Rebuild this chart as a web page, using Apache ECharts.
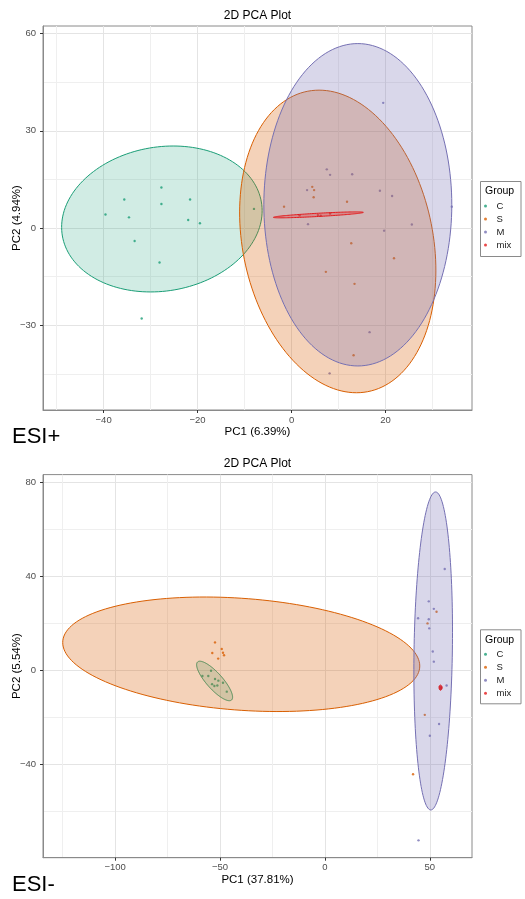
<!DOCTYPE html>
<html><head><meta charset="utf-8">
<script src="https://cdn.jsdelivr.net/npm/echarts@6/dist/echarts.min.js"></script>
<style>html,body{margin:0;padding:0;background:#fff}#c{width:525px;height:899px}</style>
</head><body><div id="c"></div>
<script>
// ---------- data ----------
const groups = ['C', 'S', 'M', 'mix'];
const groupColors = ['#1B9E77', '#D95F02', '#7570B3', '#E41A1C'];
const groupFillAlpha = [0.2, 0.28, 0.28, 0.28];

// ESI+ PCA scores [PC1, PC2]
const posC = [[-27.7,12.5],[-35.6,8.8],[-27.7,7.4],[-21.6,8.8],[-39.6,4.2],[-34.6,3.3],[-22.0,2.5],[-19.5,1.5],[-33.4,-4.0],[-28.1,-10.6],[-31.9,-27.9],[-8.0,5.9]];
const posS = [[4.4,12.7],[4.8,11.7],[4.7,9.5],[-1.6,6.6],[11.8,8.1],[12.7,-4.7],[21.8,-9.3],[7.3,-13.5],[13.4,-17.2],[13.2,-39.2]];
const posM = [[19.5,38.6],[7.5,18.1],[8.2,16.4],[12.9,16.6],[3.3,11.7],[18.8,11.5],[21.4,9.9],[34.1,6.6],[3.5,1.2],[19.7,-0.8],[25.6,1.1],[16.6,-32.1],[8.1,-44.8]];
const posMix = [[1.7,3.9],[5.6,4.0],[6.2,3.8],[8.2,4.5]];
// ellipses: [centerX, centerY, axis1X, axis1Y, axis2X, axis2Y] (conjugate semi-diameters)
const posEllipses = [[-27.6,2.8,21.2,0,2.4,22.5],[9.83,-4.13,20.5,0,-3.98,46.65],[14.1,7.18,20.0,0,0,49.7],[5.7,4.07,9.57,0.77,0,0.5]];
const posXRange = [-52.9, 38.4];
const posYRange = [-56.1, 62.3];
const posXTicks = [-40, -20, 0, 20];
const posXMinor = [-50, -30, -10, 10, 30];
const posYTicks = [-30, 0, 30, 60];
const posYMinor = [-45, -15, 15, 45];

// ESI- PCA scores [PC1, PC2]
const negC = [[-54.3,-0.2],[-58.4,-2.4],[-55.6,-2.4],[-52.4,-3.7],[-50.8,-4.4],[-53.8,-5.9],[-52.7,-6.7],[-51.3,-6.5],[-48.6,-5.3],[-46.8,-9.1]];
const negS = [[-52.4,11.9],[-53.7,7.4],[-49.2,9.1],[-48.6,7.5],[-48.1,6.4],[-50.9,5.0],[53.2,25.0],[48.9,20.0],[47.6,-19.0],[42.0,-44.3]];
const negM = [[57.1,43.2],[49.5,29.4],[51.9,26.2],[44.4,22.2],[49.5,21.8],[49.7,17.9],[51.4,8.0],[51.9,3.7],[58.0,-6.5],[54.4,-22.9],[50.0,-27.9],[44.6,-72.5]];
const negMix = [[54.8,-7.0],[55.3,-7.6],[55.0,-7.9],[55.4,-7.2]];
const negEllipses = [[-52.6,-4.54,8.1,-8.1,2.81,2.3],[-39.9,6.84,85.1,-5.0,0,23.9],[51.6,8.25,9.14,0,1.14,67.8],[55.1,-7.4,0.7,0,0,1.1]];
const negXRange = [-134.4, 70.1];
const negYRange = [-79.9, 83.45];
const negXTicks = [-100, -50, 0, 50];
const negXMinor = [-125, -75, -25, 25];
const negYTicks = [-80, -40, 0, 40, 80];
const negYMinor = [-60, -20, 20, 60];

const plotTitle = '2D PCA Plot';
const posXName = 'PC1 (6.39%)', posYName = 'PC2 (4.94%)';
const negXName = 'PC1 (37.81%)', negYName = 'PC2 (5.54%)';
const posTag = 'ESI+', negTag = 'ESI-';
const legendTitle = 'Group';

// ---------- chart ----------
const FONT = '"Liberation Sans", Arial, sans-serif';
function hexA(hex, a) {
  const n = parseInt(hex.slice(1), 16);
  return 'rgba(' + ((n >> 16) & 255) + ',' + ((n >> 8) & 255) + ',' + (n & 255) + ',' + a + ')';
}
const fmt = v => String(v).replace('-', '\u2212');

function axesFor(gridIndex, range, major, minor, name, isX) {
  const common = {
    type: 'value', gridIndex: gridIndex, min: range[0], max: range[1],
    position: isX ? 'bottom' : 'left'
  };
  const minorAxis = Object.assign({}, common, {
    axisLine: { show: false }, axisLabel: { show: false },
    axisTick: { show: false, customValues: minor },
    splitLine: { show: true, lineStyle: { color: '#efefef', width: 1 } }
  });
  const majorAxis = Object.assign({}, common, {
    name: name, nameLocation: 'middle', nameGap: isX ? 15 : 20,
    nameMoveOverlap: isX ? true : false,
    nameTextStyle: { fontFamily: FONT, fontSize: 11.5, color: '#000' },
    axisLine: { show: true, onZero: false, lineStyle: { color: '#8a8a8a', width: 1 } },
    axisTick: { show: true, length: 3, customValues: major, lineStyle: { color: '#333' } },
    axisLabel: { show: true, customValues: major, formatter: fmt, margin: isX ? 5 : 7,
      fontFamily: FONT, fontSize: 9.5, color: '#4d4d4d' },
    splitLine: { show: true, lineStyle: { color: '#e4e4e4', width: 1 } }
  });
  return [minorAxis, majorAxis];
}

const xAxis = [].concat(
  axesFor(0, posXRange, posXTicks, posXMinor, posXName, true),
  axesFor(1, negXRange, negXTicks, negXMinor, negXName, true));
const yAxis = [].concat(
  axesFor(0, posYRange, posYTicks, posYMinor, posYName, false),
  axesFor(1, negYRange, negYTicks, negYMinor, negYName, false));

function ellipseSeries(data, axisIdx) {
  return {
    type: 'custom', xAxisIndex: axisIdx, yAxisIndex: axisIdx, silent: true, z: 3, clip: true,
    encode: { x: 0, y: 1 },
    data: data,
    renderItem: function (params, api) {
      const cx = api.value(0), cy = api.value(1), ux = api.value(2), uy = api.value(3), vx = api.value(4), vy = api.value(5);
      const pts = [];
      const N = 160;
      for (let i = 0; i < N; i++) {
        const t = i / N * Math.PI * 2;
        pts.push(api.coord([cx + ux * Math.cos(t) + vx * Math.sin(t), cy + uy * Math.cos(t) + vy * Math.sin(t)]));
      }
      const col = groupColors[params.dataIndex];
      return { type: 'polygon', shape: { points: pts },
        style: { fill: hexA(col, groupFillAlpha[params.dataIndex]), stroke: col, lineWidth: 1 } };
    }
  };
}
function pointSeries(name, data, axisIdx) {
  return { type: 'scatter', name: name, xAxisIndex: axisIdx, yAxisIndex: axisIdx, data: data,
    symbol: 'circle', symbolSize: 2.4, z: 2, silent: true,
    itemStyle: { color: groupColors[groups.indexOf(name)] } };
}

const series = [
  pointSeries('C', posC, 1), pointSeries('S', posS, 1), pointSeries('M', posM, 1), pointSeries('mix', posMix, 1),
  ellipseSeries(posEllipses, 1),
  pointSeries('C', negC, 3), pointSeries('S', negS, 3), pointSeries('M', negM, 3), pointSeries('mix', negMix, 3),
  ellipseSeries(negEllipses, 3)
];

function legendFor(top) {
  return { data: groups, orient: 'vertical', left: 484, top: top, padding: 0, itemGap: 0,
    itemWidth: 12, itemHeight: 3, icon: 'circle', selectedMode: false,
    textStyle: { fontFamily: FONT, fontSize: 9.5, color: '#1a1a1a', lineHeight: 13, padding: 0 } };
}

const txt = (x, y, text, size, align) => ({ type: 'text', x: x, y: y, silent: true,
  style: { text: text, font: size + 'px ' + FONT, fill: '#000', textAlign: align || 'center', textVerticalAlign: 'middle' } });
const box = (y, h) => ({ type: 'rect', silent: true, z: -1,
  shape: { x: 480.5, y: y + 0.5, width: 40.5, height: h }, style: { fill: '#fff', stroke: '#8a8a8a', lineWidth: 1 } });

const gridBase = { left: 43, width: 429, show: true, borderColor: '#8a8a8a', borderWidth: 1, backgroundColor: '#fff',
  containLabel: false, outerBoundsMode: 'none' };

const chart = echarts.init(document.getElementById('c'), null, { renderer: 'canvas' });
chart.setOption({
  animation: false,
  backgroundColor: '#fff',
  grid: [
    Object.assign({}, gridBase, { top: 26, height: 384 }),
    Object.assign({}, gridBase, { top: 474.6, height: 383.1 })
  ],
  xAxis: xAxis,
  yAxis: yAxis,
  legend: [legendFor(199.5), legendFor(647.8)],
  graphic: [
    box(181, 75), box(629.3, 74),
    txt(485, 191.5, legendTitle, 10.5, 'left'), txt(485, 640, legendTitle, 10.5, 'left'),
    txt(257.5, 15.5, plotTitle, 12), txt(257.5, 464, plotTitle, 12),
    txt(12, 437, posTag, 22, 'left'), txt(12, 885, negTag, 22, 'left')
  ],
  series: series
});
</script>
</body></html>
